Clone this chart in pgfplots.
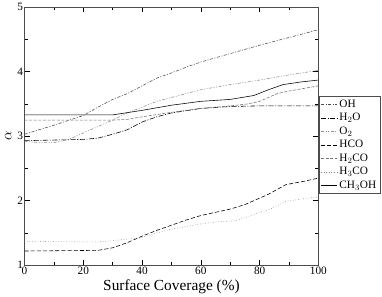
\documentclass[border=0pt]{standalone}
\usepackage{fontspec}
\setmainfont{Liberation Serif}
\usepackage{pgfplots}
\pgfplotsset{compat=1.18}
\begin{document}
\begin{tikzpicture}
\begin{axis}[
  scale only axis,
  width=287pt, height=252pt,
  xmin=0, xmax=100, ymin=1, ymax=5,
  xtick={0,20,...,100}, ytick={1,2,3,4,5},
  minor x tick num=1, minor y tick num=1,
  tick align=inside, tick pos=both,
  major tick length=5pt, minor tick length=3pt,
  tick style={black, line width=0.5pt},
  axis line style={line width=0.6pt, black!70},
  ticklabel style={font=\fontsize{11}{13}\selectfont},
  xticklabel style={yshift=2pt},
  yticklabel style={xshift=2pt},
  /pgf/number format/assume math mode=true,
  xlabel={Surface Coverage (\%)},
  ylabel={$\alpha$},
  label style={font=\fontsize{15}{17}\selectfont},
  xlabel style={yshift=2pt},
  ylabel style={yshift=-1pt},
  legend style={at={(rel axis cs:1.002,0.655)}, anchor=north west,
    font=\fontsize{11}{13}\selectfont, draw=black!70, row sep=0.4pt,
    inner sep=1.5pt},
  legend image code/.code={\draw[#1] (0cm,0cm) -- (0.55cm,0cm);},
  legend cell align=left,
  every axis plot/.append style={line width=0.55pt},
]
% OH
\addplot[black!70, dash pattern=on 3pt off 1.5pt on 1pt off 1.5pt] coordinates {
(0,3.03)(10,3.17)(20,3.32)(25,3.45)(30,3.57)(35,3.66)(40,3.78)(45,3.9)(50,3.98)(55,4.07)(60,4.15)(70,4.28)(80,4.41)(90,4.53)(100,4.65)};
\addlegendentry{OH}
% H2O
\addplot[black, dash pattern=on 5pt off 1.5pt on 1pt off 1.5pt] coordinates {
(0,2.93)(10,2.94)(20,2.95)(25,2.97)(30,3.03)(35,3.1)(40,3.22)(45,3.3)(50,3.36)(60,3.43)(70,3.46)(80,3.47)(100,3.47)};
\addlegendentry{H$_2$O}
% O2
\addplot[black!45, dash pattern=on 3pt off 1.5pt on 1pt off 1.5pt on 1pt off 1.5pt] coordinates {
(0,2.92)(5,2.9)(10,2.9)(15,2.95)(20,3.05)(25,3.15)(30,3.25)(35,3.36)(40,3.45)(45,3.54)(50,3.6)(60,3.72)(70,3.8)(80,3.87)(90,3.95)(100,4.02)};
\addlegendentry{O$_2$}
% HCO
\addplot[black, dash pattern=on 4pt off 2pt] coordinates {
(0,1.22)(25,1.23)(30,1.27)(35,1.35)(40,1.45)(45,1.54)(50,1.62)(55,1.7)(60,1.77)(65,1.82)(70,1.87)(75,1.94)(79,2.02)(83,2.1)(89,2.25)(95,2.3)(100,2.35)};
\addlegendentry{HCO}
% H2CO
\addplot[black!55, dash pattern=on 3pt off 1.5pt] coordinates {
(0,3.25)(30,3.25)(35,3.26)(40,3.3)(50,3.37)(60,3.43)(70,3.47)(76,3.5)(80,3.54)(86,3.66)(90,3.7)(100,3.78)};
\addlegendentry{H$_2$CO}
% H3CO
\addplot[black!50, dotted] coordinates {
(0,1.37)(25,1.36)(30,1.38)(40,1.43)(45,1.5)(50,1.56)(60,1.64)(65,1.67)(72,1.69)(79,1.8)(84,1.88)(89,1.99)(95,2.03)(100,2.06)};
\addlegendentry{H$_3$CO}
% CH3OH
\addplot[black] coordinates {
(0,3.33)(30,3.33)(40,3.4)(50,3.48)(60,3.54)(70,3.57)(78,3.63)(83,3.72)(88,3.8)(94,3.84)(100,3.87)};
\addlegendentry{CH$_3$OH}
\end{axis}
\path (current bounding box.east) ++(2pt,0) coordinate (bbr);
\path (current bounding box.west) ++(-1.5pt,0) coordinate (bbl);
\path (bbr) -- (bbl);
\end{tikzpicture}
\end{document}
